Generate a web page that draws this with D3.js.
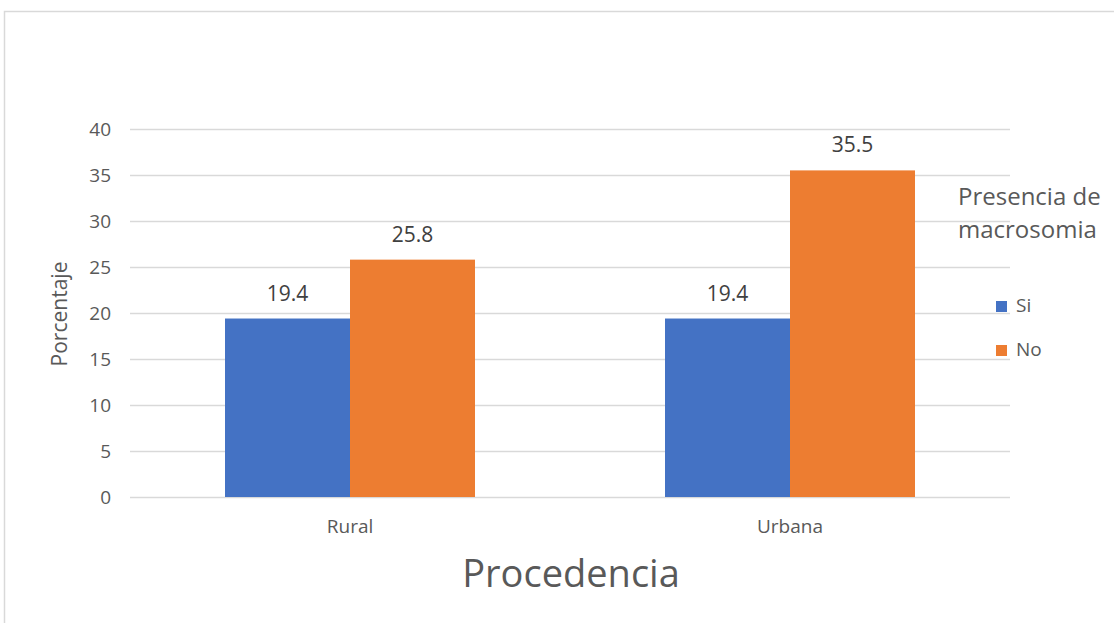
<!DOCTYPE html>
<html>
<head>
<meta charset="utf-8">
<script src="https://cdn.jsdelivr.net/npm/d3@7"></script>
<style>
  html, body { margin: 0; padding: 0; background: #ffffff; }
  svg { display: block; }
  text { font-family: 'Open Sans', 'Noto Sans', sans-serif; }
</style>
</head>
<body>
<svg id="chart" width="1114" height="623"></svg>
<script>
// Data: percentage by place of origin and presence of macrosomia
const categories = ["Rural", "Urbana"];
const seriesNames = ["Si", "No"];
const siValues = [19.4, 19.4];
const noValues = [25.8, 35.5];
const yTicks = [0, 5, 10, 15, 20, 25, 30, 35, 40];
const colors = ["#4472C4", "#ED7D31"];

const svg = d3.select("#chart");
const W = 1114, H = 623;

// Chart area frame
svg.append("rect")
  .attr("x", 4.5).attr("y", 11.5)
  .attr("width", W + 10).attr("height", H + 10)
  .attr("fill", "#ffffff")
  .attr("stroke", "#d9d9d9").attr("stroke-width", 1.5);

const plot = { left: 130, right: 1010, top: 129, bottom: 497 };

const y = d3.scaleLinear().domain([0, 40]).range([plot.bottom, plot.top]);
const x0 = d3.scaleBand().domain(categories)
  .range([plot.left, plot.right])
  .paddingInner(190 / 440).paddingOuter(95 / 440);
const x1 = d3.scaleBand().domain(seriesNames).range([0, x0.bandwidth()]);
const color = d3.scaleOrdinal().domain(seriesNames).range(colors);

const rows = categories.map((c, i) => ({
  category: c,
  values: [
    { series: "Si", value: siValues[i] },
    { series: "No", value: noValues[i] }
  ]
}));

// Horizontal gridlines with tick labels
const yAxis = d3.axisLeft(y).tickValues(yTicks).tickSize(-(plot.right - plot.left)).tickPadding(19);
const gy = svg.append("g")
  .attr("transform", `translate(${plot.left},0)`)
  .call(yAxis);
gy.select(".domain").remove();
gy.selectAll(".tick line").attr("stroke", "#d9d9d9").attr("stroke-width", 1.3);
gy.selectAll(".tick text")
  .attr("fill", "#595959")
  .attr("dy", "0.36em")
  .style("font-family", "'Open Sans', 'Noto Sans', sans-serif")
  .style("font-size", "19px");

// Bars
const groups = svg.append("g").selectAll("g")
  .data(rows).join("g")
  .attr("transform", d => `translate(${x0(d.category)},0)`);

groups.selectAll("rect")
  .data(d => d.values).join("rect")
  .attr("x", d => x1(d.series))
  .attr("y", d => y(d.value))
  .attr("width", x1.bandwidth())
  .attr("height", d => y(0) - y(d.value))
  .attr("fill", d => color(d.series));

// Value labels
groups.selectAll("text.val")
  .data(d => d.values).join("text")
  .attr("class", "val")
  .attr("x", d => x1(d.series) + x1.bandwidth() / 2)
  .attr("y", d => y(d.value) - 18)
  .attr("text-anchor", "middle")
  .attr("fill", "#404040")
  .style("font-size", "21px")
  .text(d => d.value.toFixed(1));

// Category labels
const xAxis = d3.axisBottom(x0).tickSize(0);
const gx = svg.append("g")
  .attr("transform", `translate(0,${plot.bottom})`)
  .call(xAxis);
gx.select(".domain").remove();
gx.selectAll(".tick text")
  .attr("y", 36).attr("dy", null)
  .attr("fill", "#595959")
  .style("font-family", "'Open Sans', 'Noto Sans', sans-serif")
  .style("font-size", "19px");

// Axis titles
svg.append("text")
  .attr("x", 571).attr("y", 587)
  .attr("text-anchor", "middle")
  .attr("fill", "#595959")
  .style("font-size", "38px")
  .text("Procedencia");

svg.append("text")
  .attr("transform", "translate(67,314) rotate(-90)")
  .attr("text-anchor", "middle")
  .attr("fill", "#595959")
  .style("font-size", "21px")
  .text("Porcentaje");

// Legend
const legend = svg.append("g");
legend.append("text")
  .attr("x", 958).attr("y", 205)
  .attr("fill", "#595959")
  .style("font-size", "24px")
  .text("Presencia de");
legend.append("text")
  .attr("x", 958).attr("y", 238)
  .attr("fill", "#595959")
  .style("font-size", "24px")
  .text("macrosomia");

const items = legend.selectAll("g.item")
  .data(seriesNames).join("g")
  .attr("class", "item")
  .attr("transform", (d, i) => `translate(996,${301 + i * 44})`);
items.append("rect")
  .attr("width", 11).attr("height", 11)
  .attr("fill", d => color(d));
items.append("text")
  .attr("x", 20).attr("y", 11)
  .attr("fill", "#595959")
  .style("font-size", "19px")
  .text(d => d);
</script>
</body>
</html>
